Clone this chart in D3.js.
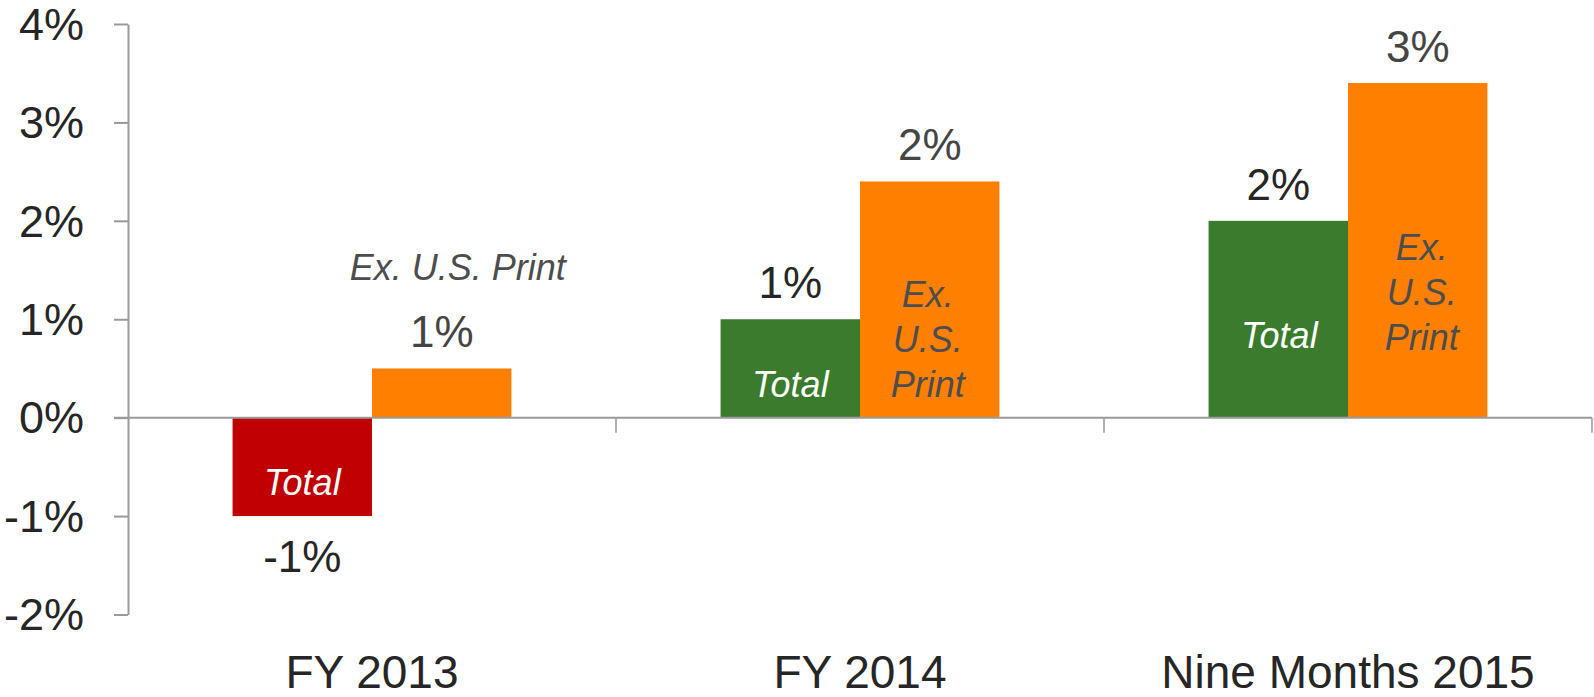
<!DOCTYPE html>
<html>
<head>
<meta charset="utf-8">
<script src="https://cdn.jsdelivr.net/npm/d3@7"></script>
<style>
    body { margin: 0; background: #fff; }
</style>
</head>
<body>
<div id="chart"></div>
<script>

// data
const categories = ["FY 2013", "FY 2014", "Nine Months 2015"];
const series = ["Total", "Ex. U.S. Print"];
const totalValues = [-1.0, 1.0, 2.0];
const exPrintValues = [0.5, 2.4, 3.4];
const valueLabels = [["-1%", "1%"], ["1%", "2%"], ["2%", "3%"]];
const yTicks = [-2, -1, 0, 1, 2, 3, 4];

let width = 1594, height = 697;
let margin = {top: 24, right: 2, bottom: 82, left: 128};

let svg = d3.select("#chart").append("svg")
    .attr("width", width)
    .attr("height", height)
    .attr("font-family", "'Liberation Sans', Arial, Helvetica, sans-serif");

let y = d3.scaleLinear()
    .domain([-2, 4])
    .range([height - margin.bottom - 0.5, margin.top]);

let x0 = d3.scaleBand()
    .domain(categories)
    .range([margin.left, width - margin.right]);

let x1 = d3.scaleBand()
    .domain(series)
    .range([0, x0.bandwidth()])
    .paddingOuter(0.75);

let colorTotal = v => v < 0 ? "#C00000" : "#3A7B2E";
let colorOrange = "#FF8000";

// rows for bars
let rows = [];
categories.forEach((c, i) => {
    rows.push({cat: c, s: "Total", v: totalValues[i], i: i, k: 0});
    rows.push({cat: c, s: "Ex. U.S. Print", v: exPrintValues[i], i: i, k: 1});
});

// bars
svg.append("g")
    .selectAll("rect")
    .data(rows)
    .join("rect")
    .attr("x", d => x0(d.cat) + x1(d.s))
    .attr("width", x1.bandwidth())
    .attr("y", d => y(Math.max(0, d.v)))
    .attr("height", d => Math.abs(y(d.v) - y(0)))
    .attr("fill", d => d.k === 0 ? colorTotal(d.v) : colorOrange);

// y axis
let axisColor = "#9a9a9a";
let yAxis = svg.append("g")
    .attr("transform", `translate(${margin.left},0)`)
    .call(d3.axisLeft(y).tickValues(yTicks).tickSize(14).tickSizeOuter(0).tickPadding(30)
        .tickFormat(d => d + "%"));
yAxis.attr("font-family", null);
yAxis.select(".domain").attr("stroke", axisColor).attr("stroke-width", 2);
yAxis.selectAll(".tick line").attr("stroke", axisColor).attr("stroke-width", 2);
yAxis.selectAll(".tick text")
    .attr("font-size", 45)
    .attr("fill", "#262626")
    .attr("dy", "0.34em");

// zero line with category dividers
let xAxis = svg.append("g")
    .attr("transform", `translate(0,${y(0)})`);
xAxis.append("line")
    .attr("x1", margin.left - 14)
    .attr("x2", width - margin.right)
    .attr("stroke", axisColor)
    .attr("stroke-width", 2);
xAxis.selectAll(".divider")
    .data(categories)
    .join("line")
    .attr("class", "divider")
    .attr("x1", d => x0(d) + x0.bandwidth())
    .attr("x2", d => x0(d) + x0.bandwidth())
    .attr("y1", 0)
    .attr("y2", 15)
    .attr("stroke", axisColor)
    .attr("stroke-width", 1.5);

// category labels
svg.append("g")
    .selectAll("text")
    .data(categories)
    .join("text")
    .attr("x", d => x0(d) + x0.bandwidth() / 2)
    .attr("y", 688)
    .attr("text-anchor", "middle")
    .attr("font-size", 46)
    .attr("fill", "#262626")
    .text(d => d);

// value labels above / below the bars
svg.append("g")
    .selectAll("text")
    .data(rows)
    .join("text")
    .attr("x", d => x0(d.cat) + x1(d.s) + x1.bandwidth() / 2)
    .attr("y", d => d.v < 0 ? y(d.v) + 56 : y(d.v) - 21)
    .attr("text-anchor", "middle")
    .attr("font-size", 44)
    .attr("fill", d => d.k === 0 ? "#262626" : "#454545")
    .text(d => valueLabels[d.i][d.k]);

// italic series labels, placed by hand like the original text boxes
let seriesNotes = [
    {i: 0, k: 0, lines: ["Total"], base: 495, dx: 0, fill: "#fff"},
    {i: 0, k: 1, lines: ["Ex. U.S. Print"], base: 280, dx: 16, fill: "#4d4d4d"},
    {i: 1, k: 0, lines: ["Total"], base: 397, dx: 0, fill: "#fff"},
    {i: 1, k: 1, lines: ["Ex.", "U.S.", "Print"], base: 307, dx: -2, fill: "#4d4d4d"},
    {i: 2, k: 0, lines: ["Total"], base: 348, dx: 1, fill: "#fff"},
    {i: 2, k: 1, lines: ["Ex.", "U.S.", "Print"], base: 260, dx: 4, fill: "#4d4d4d"}
];

let notes = svg.append("g")
    .selectAll("text")
    .data(seriesNotes)
    .join("text")
    .attr("text-anchor", "middle")
    .attr("font-size", 36)
    .attr("font-style", "italic")
    .attr("fill", d => d.fill);

notes.selectAll("tspan")
    .data(d => d.lines.map((t, j) => ({t: t, j: j, d: d})))
    .join("tspan")
    .attr("x", o => x0(categories[o.d.i]) + x1(series[o.d.k]) + x1.bandwidth() / 2 + o.d.dx)
    .attr("y", o => o.d.base + o.j * 45)
    .text(o => o.t);

</script>
</body>
</html>
